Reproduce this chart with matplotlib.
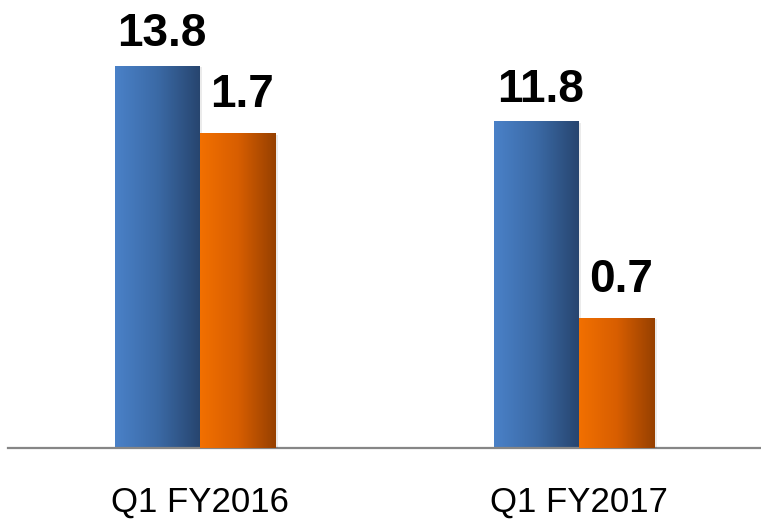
import numpy as np
import matplotlib.pyplot as plt
from matplotlib.colors import LinearSegmentedColormap

categories = ['Q1 FY2016', 'Q1 FY2017']
blue_values = [13.8, 11.8]     # left scale
orange_values = [1.7, 0.7]     # right scale

W, H = 761, 519
fig = plt.figure(figsize=(W / 100, H / 100), dpi=100)
ax = fig.add_axes([8 / W, (H - 448) / H, 1 - 8 / W, 448 / H])
ax2 = ax.twinx()

blue_cmap = LinearSegmentedColormap.from_list('b', ['#4a81c8', '#3b6aa6', '#27456f'])
orange_cmap = LinearSegmentedColormap.from_list('o', ['#f27000', '#d85e00', '#964000'])
grad = np.linspace(0, 1, 256).reshape(1, -1)

x = np.arange(len(categories))
bw_blue, bw_orange = 0.224, 0.2


def gradient_bars(axis, xs, vals, width, offset, cmap):
    bars = axis.bar(xs + offset, vals, width, facecolor='none', edgecolor='none', zorder=2)
    for b in bars:
        x0, y0 = b.get_xy()
        # soft shadow to the right / bottom
        axis.bar(x0 + b.get_width() / 2 + 0.006, b.get_height(), b.get_width(),
                 bottom=-0.004 * b.get_height(), color='black', alpha=0.08, zorder=1)
        im = axis.imshow(grad, extent=[x0, x0 + b.get_width(), y0, y0 + b.get_height()],
                         aspect='auto', cmap=cmap, zorder=2, interpolation='bilinear')
        im.set_clip_path(b)
    return bars


bars_b = gradient_bars(ax, x, blue_values, bw_blue, -bw_blue / 2, blue_cmap)
bars_o = gradient_bars(ax2, x, orange_values, bw_orange, bw_orange / 2, orange_cmap)

lbl_font = dict(family='Liberation Sans', fontsize=33, fontweight='bold', color='black')
for b, v in zip(bars_b, blue_values):
    ax.annotate(f'{v:.1f}', (b.get_x() + b.get_width() / 2 + 0.01, v), xytext=(0, 14),
                textcoords='offset points', ha='center', va='baseline', **lbl_font)
for b, v in zip(bars_o, orange_values):
    ax2.annotate(f'{v:.1f}', (b.get_x() + b.get_width() / 2 + 0.01, v), xytext=(0, 19),
                 textcoords='offset points', ha='center', va='baseline', **lbl_font)

xmin = (8 - 200) / 379
xmax = (761 - 200) / 379
for a in (ax, ax2):
    a.set_xlim(xmin, xmax)
    for s in ('left', 'right', 'top'):
        a.spines[s].set_visible(False)
    a.set_yticks([])
    a.patch.set_visible(False)
ax.set_ylim(0, 16.18)
ax2.set_ylim(0, 2.42)
ax2.spines['bottom'].set_visible(False)
ax.spines['bottom'].set_color('#868686')
ax.spines['bottom'].set_linewidth(1.6)
ax.spines['bottom'].set_zorder(3)

ax.set_xticks(x)
ax.set_xticklabels(categories, family='Liberation Sans', fontsize=25)
ax.tick_params(axis='x', length=0, pad=27)
ax2.tick_params(axis='x', length=0, labelbottom=False)

fig.savefig('out.png', dpi=100, facecolor='white')
